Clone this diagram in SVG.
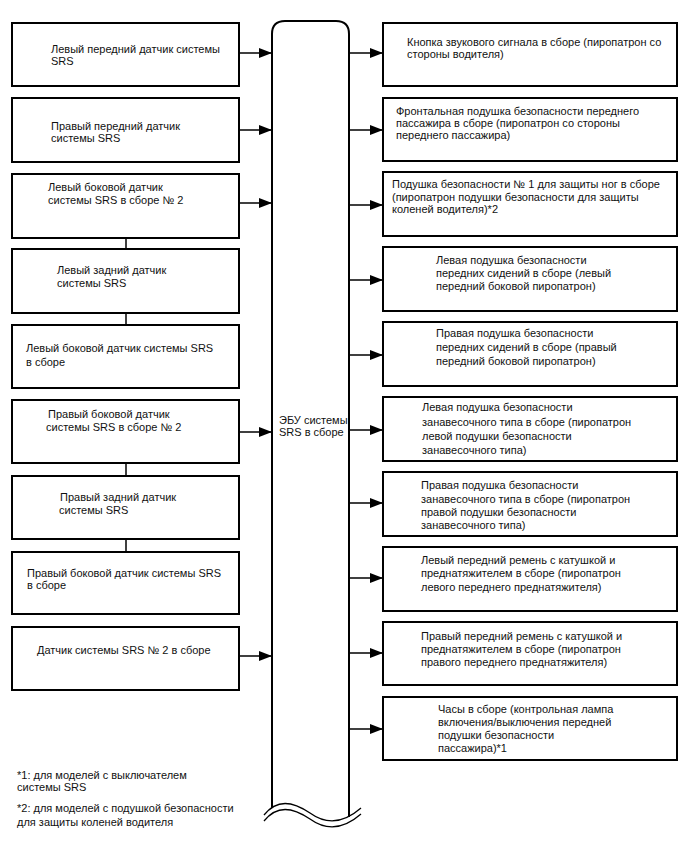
<svg xmlns="http://www.w3.org/2000/svg" width="688" height="852" viewBox="0 0 688 852">
<defs>
<marker id="ah" markerUnits="userSpaceOnUse" markerWidth="13" markerHeight="10" refX="13" refY="5" orient="auto">
<path d="M0,0 L13,5 L0,10 Z" fill="#000"/>
</marker>
</defs>
<style>
.box{fill:#fff;stroke:#000;stroke-width:2}
.col{fill:#fff;stroke:#000;stroke-width:2}
.ln{stroke:#000;stroke-width:1.5;fill:none}
.ar{stroke:#000;stroke-width:1.5;fill:none;marker-end:url(#ah)}
.wave{stroke:#000;stroke-width:1.3;fill:none}
text{font-family:"Liberation Sans",Arial,sans-serif;font-size:11px;fill:#111}
</style>
<rect width="688" height="852" fill="#fff"/>

<g id="ecu">
<path class="col" d="M272,808 V34 Q272,21 285,21 H336 Q349,21 349,34 V817"/>
<path class="wave" d="M264,815 C277,799 292,801 310,813 C328,826 345,822 361,808"/>
<path class="wave" d="M264,821 C277,805 292,807 310,819 C328,832 345,828 361,814"/>
<text x="279" y="424">ЭБУ системы</text>
<text x="279" y="436">SRS в сборе</text>
</g>

<g id="connectors">
<line class="ar" x1="239" y1="53" x2="272" y2="53"/>
<line class="ar" x1="239" y1="130" x2="272" y2="130"/>
<line class="ar" x1="239" y1="203" x2="272" y2="203"/>
<line class="ar" x1="239" y1="432" x2="272" y2="432"/>
<line class="ar" x1="239" y1="656" x2="272" y2="656"/>
<line class="ln" x1="126" y1="238" x2="126" y2="249"/>
<line class="ln" x1="126" y1="313" x2="126" y2="325"/>
<line class="ln" x1="126" y1="463" x2="126" y2="476"/>
<line class="ln" x1="126" y1="539" x2="126" y2="552"/>
<line class="ar" x1="349" y1="53" x2="383" y2="53"/>
<line class="ar" x1="349" y1="130" x2="383" y2="130"/>
<line class="ar" x1="349" y1="205" x2="383" y2="205"/>
<line class="ar" x1="349" y1="280" x2="383" y2="280"/>
<line class="ar" x1="349" y1="355" x2="383" y2="355"/>
<line class="ar" x1="349" y1="430" x2="383" y2="430"/>
<line class="ar" x1="349" y1="503" x2="383" y2="503"/>
<line class="ar" x1="349" y1="578" x2="383" y2="578"/>
<line class="ar" x1="349" y1="653" x2="383" y2="653"/>
<line class="ar" x1="349" y1="729" x2="383" y2="729"/>
</g>

<g id="L1"><rect class="box" x="12" y="23" width="227" height="63"/>
<text x="51" y="53">Левый передний датчик системы</text><text x="51" y="65">SRS</text></g>
<g id="L2"><rect class="box" x="12" y="98" width="227" height="64"/>
<text x="51" y="130">Правый передний датчик</text><text x="51" y="142">системы SRS</text></g>
<g id="L3"><rect class="box" x="12" y="174" width="227" height="64"/>
<text x="48" y="191">Левый боковой датчик</text><text x="48" y="204">системы SRS в сборе № 2</text></g>
<g id="L4"><rect class="box" x="12" y="249" width="227" height="64"/>
<text x="57" y="274">Левый задний датчик</text><text x="57" y="287">системы SRS</text></g>
<g id="L5"><rect class="box" x="12" y="325" width="227" height="63"/>
<text x="26" y="352">Левый боковой датчик системы SRS</text><text x="26" y="366">в сборе</text></g>
<g id="L6"><rect class="box" x="12" y="400" width="227" height="63"/>
<text x="48" y="418">Правый боковой датчик</text><text x="46" y="431">системы SRS в сборе № 2</text></g>
<g id="L7"><rect class="box" x="12" y="476" width="227" height="63"/>
<text x="60" y="501">Правый задний датчик</text><text x="59" y="514">системы SRS</text></g>
<g id="L8"><rect class="box" x="12" y="552" width="227" height="62"/>
<text x="27" y="577">Правый боковой датчик системы SRS</text><text x="27" y="589">в сборе</text></g>
<g id="L9"><rect class="box" x="12" y="627" width="227" height="63"/>
<text x="37" y="654">Датчик системы SRS № 2 в сборе</text></g>

<g id="R1"><rect class="box" x="383" y="23" width="294" height="63"/>
<text x="407" y="46">Кнопка звукового сигнала в сборе (пиропатрон со</text><text x="407" y="58">стороны водителя)</text></g>
<g id="R2"><rect class="box" x="383" y="98" width="294" height="63"/>
<text x="396" y="115">Фронтальная подушка безопасности переднего</text><text x="396" y="127">пассажира в сборе (пиропатрон со стороны</text><text x="396" y="139">переднего пассажира)</text></g>
<g id="R3"><rect class="box" x="383" y="172" width="294" height="64"/>
<text x="392" y="188">Подушка безопасности № 1 для защиты ног в сборе</text><text x="392" y="201">(пиропатрон подушки безопасности для защиты</text><text x="392" y="213">коленей водителя)*2</text></g>
<g id="R4"><rect class="box" x="383" y="247" width="294" height="64"/>
<text x="436" y="264">Левая подушка безопасности</text><text x="436" y="277">передних сидений в сборе (левый</text><text x="436" y="290">передний боковой пиропатрон)</text></g>
<g id="R5"><rect class="box" x="383" y="322" width="294" height="64"/>
<text x="436" y="337">Правая подушка безопасности</text><text x="436" y="351">передних сидений в сборе (правый</text><text x="436" y="365">передний боковой пиропатрон)</text></g>
<g id="R6"><rect class="box" x="383" y="397" width="294" height="64"/>
<text x="422" y="411">Левая подушка безопасности</text><text x="422" y="426">занавесочного типа в сборе (пиропатрон</text><text x="422" y="440">левой подушки безопасности</text><text x="422" y="454">занавесочного типа)</text></g>
<g id="R7"><rect class="box" x="383" y="472" width="294" height="64"/>
<text x="421" y="489">Правая подушка безопасности</text><text x="421" y="503">занавесочного типа в сборе (пиропатрон</text><text x="421" y="516">правой подушки безопасности</text><text x="421" y="529">занавесочного типа)</text></g>
<g id="R8"><rect class="box" x="383" y="547" width="294" height="64"/>
<text x="421" y="564">Левый передний ремень с катушкой и</text><text x="421" y="577">преднатяжителем в сборе (пиропатрон</text><text x="421" y="591">левого переднего преднатяжителя)</text></g>
<g id="R9"><rect class="box" x="383" y="622" width="294" height="63"/>
<text x="421" y="640">Правый передний ремень с катушкой и</text><text x="421" y="653">преднатяжителем в сборе (пиропатрон</text><text x="421" y="666">правого переднего преднатяжителя)</text></g>
<g id="R10"><rect class="box" x="383" y="697" width="294" height="63"/>
<text x="438" y="713">Часы в сборе (контрольная лампа</text><text x="438" y="726">включения/выключения передней</text><text x="438" y="739">подушки безопасности</text><text x="438" y="752">пассажира)*1</text></g>

<g id="notes">
<text x="17" y="779">*1: для моделей с выключателем</text>
<text x="17" y="791">системы SRS</text>
<text x="17" y="812">*2: для моделей с подушкой безопасности</text>
<text x="17" y="826">для защиты коленей водителя</text>
</g>
</svg>
